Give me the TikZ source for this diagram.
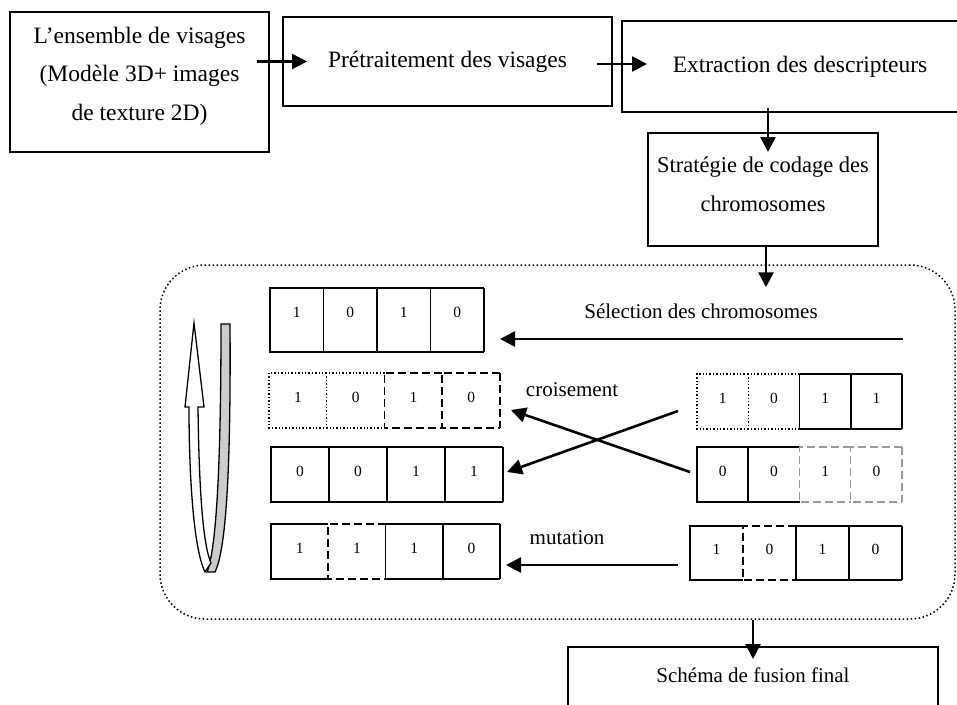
\documentclass[tikz,border=0pt]{standalone}
\usepackage{fontspec}
\setmainfont{Liberation Serif}
\usetikzlibrary{arrows.meta,calc,positioning}

\tikzset{
  box/.style={draw, line width=1.6pt, inner sep=0pt, outer sep=0pt, align=center,
    font=\fontsize{23.5}{38.5}\selectfont},
  arr/.style={line width=2.6pt, -{Triangle[length=15pt,width=15pt]}},
  cell/.style={inner sep=0pt, outer sep=0pt, font=\fontsize{15.5}{15.5}\selectfont},
  lab/.style={font=\fontsize{21}{21}\selectfont},
  solidline/.style={line width=1.6pt},
  dotline/.style={line width=1.4pt, dotted},
  dashline/.style={line width=1.6pt, dash pattern=on 8pt off 4pt},
  greyline/.style={line width=1.4pt, gray!80, dash pattern=on 8pt off 4pt},
}

% one chromosome: name, left x, centre y, cell width, options, digit/style list
\newcommand{\chromo}[6]{%
  \foreach \v/\s [count=\i] in {#6} {
    \node[cell, minimum width=#4, #5] (#1\i) at ({#2+(\i-0.5)*#4},#3) {\v};
    \draw[\s] (#1\i.north east) -- (#1\i.north west) -- (#1\i.south west) -- (#1\i.south east);
    \ifnum\i=4 \draw[\s] (#1\i.north east) -- (#1\i.south east); \fi
  }
}

\begin{document}
\begin{tikzpicture}[x=1pt, y=-1pt]
  \useasboundingbox (0,0) rectangle (957,704);

  % genetic loop
  \node[draw, rounded corners=45pt, line width=1.5pt, dash pattern=on 1.5pt off 2.5pt,
        minimum width=795, minimum height=354] (ga) at (557.5,442) {};

  % pipeline boxes
  \node[box, minimum width=259, minimum height=140, text depth=17pt] (ens) at (139.5,82)
    {L’ensemble de visages\\(Modèle 3D+ images\\de texture 2D)};
  \node[box, minimum width=329, minimum height=89] (pre) at (447.5,61.5) {Prétraitement des visages};
  \node[box, minimum width=356, minimum height=91] (ext) at (800,66.5) {Extraction des descripteurs};
  \node[box, minimum width=230, minimum height=113, text depth=11pt,
        font=\fontsize{22.5}{38.5}\selectfont] (strat) at (763,189.5)
    {Stratégie de codage des\\chromosomes};
  \node[box, anchor=north, minimum width=370, inner ysep=21pt, text depth=40pt,
        font=\fontsize{21}{21}\selectfont] (fus) at (753,647) {Schéma de fusion final};

  \draw[arr] ($(pre.west -| ens.east)+(-12,0)$) -- ($(pre.west)+(24,0)$);
  \draw[arr] ($(ext.west -| pre.east)+(-15,-2.5)$) -- ($(ext.west)+(25,-2.5)$);
  \draw[arr] ($(ext.south -| strat.north)+(5,-4)$) -- ($(strat.north)+(5,19)$);
  \draw[arr] ($(strat.south)+(3,0)$) -- ($(strat.south |- ga.north)+(3,23)$);
  \draw[arr] (ga.south -| fus.north) -- ($(fus.north)+(0,12)$);

  % chromosomes
  \chromo{sel}{270}{320}{53.5}{minimum height=64, text depth=16pt}{1/solidline,0/solidline,1/solidline,0/solidline}
  \chromo{cr}{269}{400.5}{57.75}{minimum height=55, text depth=7pt}{1/dotline,0/dotline,1/dashline,0/dashline}
  \chromo{ch}{271}{474.5}{58}{minimum height=55, text depth=7pt}{0/solidline,0/solidline,1/solidline,1/solidline}
  \chromo{mut}{271}{551.5}{57.25}{minimum height=55, text depth=7pt}{1/solidline,1/dashline,1/solidline,0/solidline}
  \chromo{pa}{697}{401.5}{51.25}{minimum height=55, text depth=7pt}{1/dotline,0/dotline,1/solidline,1/solidline}
  \chromo{pb}{697}{474.5}{51.25}{minimum height=55, text depth=7pt}{0/solidline,0/solidline,1/greyline,0/greyline}
  \chromo{mu}{690}{553}{53}{minimum height=54, text depth=7pt}{1/solidline,0/dashline,1/solidline,0/solidline}

  % operators
  \node[lab] (sel-lab) at (701,311) {Sélection des chromosomes};
  \coordinate (sel-src) at (903,339);
  \draw[arr] (sel-src) -- ($(sel4.east)+(16,19)$);
  \node[lab] (cr-lab) at (572,390) {croisement};
  \draw[arr] ($(pa1.west)+(-19,9.5)$) -- ($(ch4.east)+(4,-2.5)$);
  \draw[arr] ($(pb1.west)+(-7,-2.5)$) -- ($(cr4.east)+(11,9.5)$);
  \node[lab] (mu-lab) at (567,538) {mutation};
  \draw[arr] ($(mu1.west)+(-12,12)$) -- ($(mut4.east)+(6,13.5)$);

  % loop arrow
  \filldraw[fill=gray!40, line width=1.3pt] (221,324) -- (230,324)
    .. controls (231,470) and (226,550) .. (215,572) -- (207,572)
    .. controls (216,550) and (221,470) .. (221,324) -- cycle;
  \filldraw[fill=white, line width=1.3pt] (194,323) -- (204,407) -- (198,407)
    .. controls (199,490) and (203,545) .. (211,563) -- (205,572)
    .. controls (194,550) and (189,480) .. (189,407) -- (185,407) -- cycle;
\end{tikzpicture}
\end{document}
